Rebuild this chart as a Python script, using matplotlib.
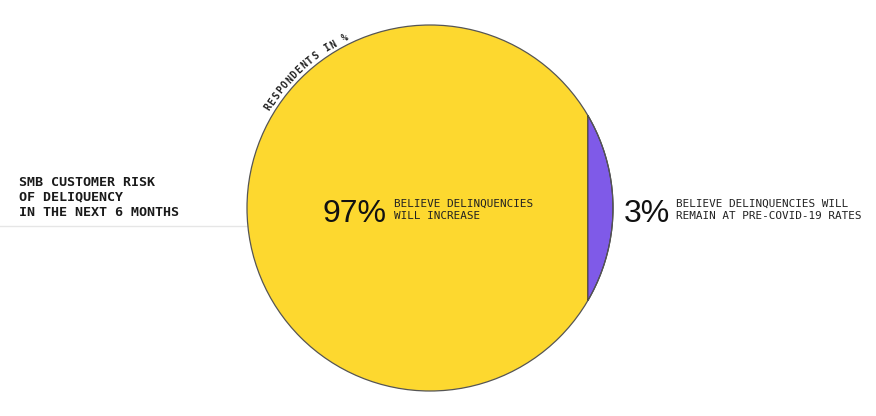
import numpy as np
import matplotlib
matplotlib.use("Agg")
import matplotlib.pyplot as plt
from matplotlib.patches import Circle, Polygon

# ---- data ----
categories = ["Believe delinquencies will increase",
              "Believe delinquencies will remain at pre-COVID-19 rates"]
values = [97, 3]
labels_big = ["97%", "3%"]
labels_small = ["BELIEVE DELINQUENCIES\nWILL INCREASE",
                "BELIEVE DELINQUENCIES WILL\nREMAIN AT PRE-COVID-19 RATES"]
title = "SMB CUSTOMER RISK\nOF DELIQUENCY\nIN THE NEXT 6 MONTHS"
arc_label = "RESPONDENTS IN %"
colors = ["#FDD82F", "#7F5AE8"]

W, H = 876, 416
fig = plt.figure(figsize=(W / 100, H / 100), dpi=100)
ax = fig.add_axes([0, 0, 1, 1])
ax.set_xlim(0, W)
ax.set_ylim(H, 0)
ax.set_aspect("equal")
ax.axis("off")

cx, cy, R = 430, 208, 183

# solve chord depth h so that segment area fraction == share of small value
share = values[1] / sum(values)
def seg_frac(h):
    a = np.arccos((R - h) / R)
    return (R**2 * a - (R - h) * np.sqrt(2 * R * h - h**2)) / (np.pi * R**2)
lo, hi = 0.0, R
for _ in range(60):
    mid = (lo + hi) / 2
    if seg_frac(mid) < share:
        lo = mid
    else:
        hi = mid
h = (lo + hi) / 2
alpha = np.arccos((R - h) / R)

ax.add_patch(Circle((cx, cy), R, facecolor=colors[0], edgecolor="none", zorder=2))
t = np.linspace(-alpha, alpha, 200)
pts = np.column_stack([cx + R * np.cos(t), cy - R * np.sin(t)])
ax.add_patch(Polygon(pts, closed=True, facecolor=colors[1], edgecolor="#333333",
                     lw=0.8, zorder=3))
ax.add_patch(Circle((cx, cy), R, facecolor="none", edgecolor="#555555", lw=0.9, zorder=4))

# horizontal guide line
ax.plot([0, cx - R], [226, 226], color="#e6e6e6", lw=1, zorder=1)

mono = "DejaVu Sans Mono"
sans = "Liberation Sans"

ax.text(19, 197, title, family=mono, fontsize=9.6, fontweight="bold",
        color="#1a1a1a", va="center", ha="left", linespacing=1.2)

# big + small labels
ax.text(322, 222, labels_big[0], family=sans, fontsize=23, color="#111111",
        ha="left", va="baseline")
ax.text(394, 210, labels_small[0], family=mono, fontsize=7.9, color="#222222",
        ha="left", va="center", linespacing=1.2)
ax.text(624, 222, labels_big[1], family=sans, fontsize=23, color="#111111",
        ha="left", va="baseline")
ax.text(676, 210, labels_small[1], family=mono, fontsize=7.9, color="#222222",
        ha="left", va="center", linespacing=1.2)

# curved label along the circle
Rt = 190
start, end = 148.0, 116.5
angs = np.linspace(start, end, len(arc_label))
for ch, th in zip(arc_label, angs):
    r = np.deg2rad(th)
    ax.text(cx + Rt * np.cos(r), cy - Rt * np.sin(r), ch, family=mono,
            fontsize=7, fontweight="bold", color="#222222", rotation=th - 90,
            ha="center", va="center", rotation_mode="anchor")

fig.savefig("out.png", dpi=100)
